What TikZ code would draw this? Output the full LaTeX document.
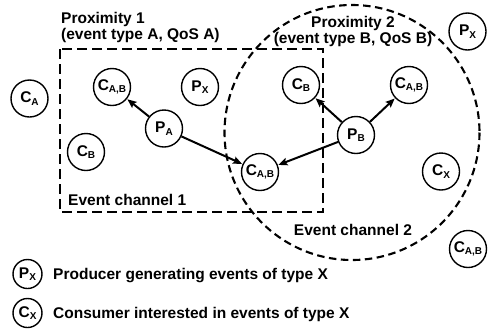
\documentclass[tikz,border=0pt]{standalone}
\usepackage{fontspec}
\setmainfont{Liberation Sans}
\usetikzlibrary{arrows.meta}
\newcommand\lsub[1]{\raisebox{-2.6pt}{\fontsize{10}{10}\selectfont #1}}
\begin{document}
\begin{tikzpicture}[x=1pt,y=-1pt,
  every node/.style={font=\bfseries\fontsize{15.5}{18}\selectfont, text=black},
  ent/.style={draw, circle, line width=1.4pt, minimum size=37pt, inner sep=0pt},
  legent/.style={draw, circle, line width=1.4pt, minimum size=29pt, inner sep=0pt},
  flow/.style={line width=2pt, -{Stealth[length=9pt,width=7.5pt,inset=1.5pt]}, shorten >=0.5pt},
  lbl/.style={inner sep=0pt, anchor=base west},
  clbl/.style={inner sep=0pt, anchor=base}
]
\useasboundingbox (0,0) rectangle (490,330);
% event channel 1 (rectangle) and event channel 2 (circle)
\draw[line width=2.3pt, dash pattern=on 10pt off 5pt] (60,49) rectangle (323,212);
\draw[line width=2.1pt, dash pattern=on 7.5pt off 4.5pt] (352,132.5) circle[radius=127.5];

% texts
\node[lbl] (prox1a) at (61,23) {Proximity 1};
\node[lbl] (prox1b) at (61,39) {(event type A, QoS A)};
\node[clbl] (prox2a) at (353,27) {Proximity 2};
\node[clbl] (prox2b) at (353,43) {(event type B, QoS B)};
\node[lbl] (ec1) at (68,205) {Event channel 1};
\node[clbl] (ec2) at (353,235) {Event channel 2};

% entities
\node[ent] (ca)   at (29.5,98.5) {C\lsub{A}};
\node[ent] (cab1) at (112,87) {C\lsub{A,B}};
\node[ent] (px1)  at (200,87) {P\lsub{X}};
\node[ent] (pa)   at (164,128.5) {P\lsub{A}};
\node[ent] (cb1)  at (86,152) {C\lsub{B}};
\node[ent] (cab2) at (260,172) {C\lsub{A,B}};
\node[ent] (cb2)  at (301,85) {C\lsub{B}};
\node[ent] (cab3) at (409,85) {C\lsub{A,B}};
\node[ent] (pb)   at (356,135) {P\lsub{B}};
\node[ent] (cx)   at (441,171.5) {C\lsub{X}};
\node[ent] (px2)  at (467.5,31.5) {P\lsub{X}};
\node[ent] (cab4) at (468,249) {C\lsub{A,B}};

% arrows
\draw[flow] (pa) -- (cab1);
\draw[flow] (pa) -- (cab2);
\draw[flow] (pb) -- (cb2);
\draw[flow] (pb) -- (cab3);
\draw[flow] (pb) -- (cab2);

% legend
\node[legent] (lpx) at (27.5,274) {P\lsub{X}};
\node[legent] (lcx) at (27.5,313) {C\lsub{X}};
\node[lbl] (lpxt) at (53,279.5) {Producer generating events of type X};
\node[lbl] (lcxt) at (53,318.5) {Consumer interested in events of type X};
\end{tikzpicture}
\end{document}
